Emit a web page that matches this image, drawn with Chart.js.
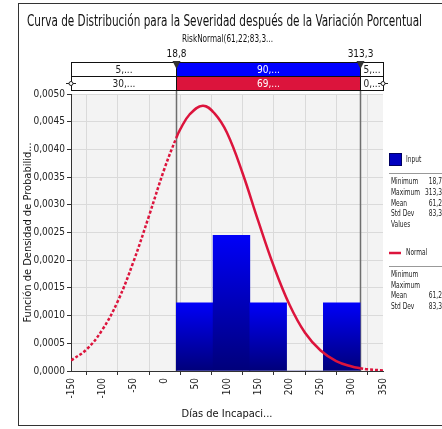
<!DOCTYPE html>
<html>
<head>
<meta charset="utf-8">
<script src="https://cdn.jsdelivr.net/npm/chart.js@4.4.1/dist/chart.umd.min.js"></script>
<style>
  html, body { margin: 0; padding: 0; background: #fff; }
  canvas { display: block; }
</style>
</head>
<body>
<canvas id="grafico" width="442" height="429"></canvas>
<script>
// Histograma: bordes de los bins y densidad de cada uno
const binEdges = [18.8, 77.7, 136.6, 195.5, 254.4, 313.3];
const binDensity = [0.00123, 0.00245, 0.00123, 0, 0.00123];

// Curva normal
const curveX = [-150, -125, -100, -75, -50, -25, 0, 18.8, 25, 40, 61.2, 80, 100, 125, 150, 175, 200, 225, 250, 275, 300, 313.3, 325, 350];
const curveY = [0.00019, 0.00039, 0.00074, 0.00126, 0.00197, 0.00280, 0.00366, 0.00421, 0.00436, 0.00463, 0.00479, 0.00465, 0.00430,
                0.00357, 0.00271, 0.00189, 0.00120, 0.00069, 0.00037, 0.00018, 0.00008, 0.00005, 0.00003, 0.00001];

// Limites y bandas de porcentajes
const limits = [18.8, 313.3];
const limitLabels = ['18,8', '313,3'];
const bandInput = ['5,...', '90,...', '5,...'];
const bandNormal = ['30,...', '69,...', '0,...'];

const inputStats = [['Minimum', '18,7'], ['Maximum', '313,3'], ['Mean', '61,2'], ['Std Dev', '83,3'], ['Values', '']];
const normalStats = [['Minimum', ''], ['Maximum', ''], ['Mean', '61,2'], ['Std Dev', '83,3']];

const FUENTE = "'DejaVu Sans Condensed', 'Liberation Sans Narrow', 'DejaVu Sans', sans-serif";
const AZUL = '#0000ff';
const ROJO = '#dc143c';

Chart.defaults.font.family = FUENTE;
Chart.defaults.color = '#222';

// centros de los bins para las barras
const binCenters = binDensity.map((d, i) => (binEdges[i] + binEdges[i + 1]) / 2);

function coma(v, dec) {
    return v.toFixed(dec).replace('.', ',');
}

// texto con escala horizontal (el original es comprimido)
function textoEscala(c, txt, x, y, s) {
    c.save();
    c.translate(x, y);
    c.scale(s, 1);
    c.fillText(txt, 0, 0);
    c.restore();
}

function textoAncho(c, txt, x, y, ancho) {
    const w = c.measureText(txt).width;
    textoEscala(c, txt, x, y, Math.min(1.2, ancho / w));
}

const decorado = {
    id: 'decorado',
    beforeDraw(chart) {
        const c = chart.ctx, a = chart.chartArea;
        c.save();
        c.fillStyle = '#fff';
        c.fillRect(0, 0, chart.width, chart.height);
        c.strokeStyle = '#333';
        c.lineWidth = 1;
        c.strokeRect(18.5, 3.5, chart.width, 422);
        c.fillStyle = '#f3f3f3';
        c.fillRect(a.left, a.top, a.right - a.left, a.bottom - a.top);
        c.restore();
    },
    beforeDatasetsDraw(chart) {
        // lineas verticales de los limites
        const c = chart.ctx, a = chart.chartArea, sx = chart.scales.x;
        c.save();
        c.strokeStyle = '#6e6e6e';
        c.lineWidth = 1.5;
        limits.forEach(v => {
            const px = Math.round(sx.getPixelForValue(v)) + 0.5;
            c.beginPath();
            c.moveTo(px, 62);
            c.lineTo(px, a.bottom);
            c.stroke();
        });
        c.restore();
    },
    afterDraw(chart) {
        const c = chart.ctx, a = chart.chartArea, sx = chart.scales.x;
        c.save();
        // titulo
        c.fillStyle = '#111';
        c.textAlign = 'left';
        c.textBaseline = 'alphabetic';
        c.font = '16px ' + FUENTE;
        textoAncho(c, 'Curva de Distribución para la Severidad después de la Variación Porcentual', 27, 26, 395);
        c.font = '10px ' + FUENTE;
        textoAncho(c, 'RiskNormal(61,22;83,3...', 182, 42, 91);

        // bandas superiores
        const xl = Math.round(sx.getPixelForValue(limits[0])) + 0.5;
        const xr = Math.round(sx.getPixelForValue(limits[1])) + 0.5;
        const bordes = [a.left + 0.5, xl, xr, a.right + 0.5];
        const filas = [
            { y: 62.5, h: 14, txt: bandInput, fondo: AZUL },
            { y: 76.5, h: 14, txt: bandNormal, fondo: ROJO }
        ];
        c.font = '10px ' + FUENTE;
        c.textAlign = 'center';
        c.textBaseline = 'middle';
        filas.forEach(f => {
            for (let i = 0; i < 3; i++) {
                c.fillStyle = i === 1 ? f.fondo : '#fff';
                c.fillRect(bordes[i], f.y, bordes[i + 1] - bordes[i], f.h);
                c.strokeStyle = '#111';
                c.lineWidth = 1;
                c.strokeRect(bordes[i], f.y, bordes[i + 1] - bordes[i], f.h);
                c.fillStyle = i === 1 ? '#fff' : '#222';
                c.fillText(f.txt[i], (bordes[i] + bordes[i + 1]) / 2, f.y + f.h / 2 + 1);
            }
        });
        // marcadores laterales
        c.strokeStyle = '#222';
        [a.left, a.right].forEach(px => {
            c.beginPath();
            c.moveTo(px - 5, 83.5);
            c.lineTo(px + 5, 83.5);
            c.stroke();
            c.beginPath();
            c.arc(px, 83.5, 2, 0, Math.PI * 2);
            c.fillStyle = '#fff';
            c.fill();
            c.stroke();
        });
        // triangulos y etiquetas de limites
        limits.forEach((v, i) => {
            const px = Math.round(sx.getPixelForValue(v)) + 0.5;
            c.fillStyle = '#333';
            c.beginPath();
            c.moveTo(px - 4, 61);
            c.lineTo(px + 4, 61);
            c.lineTo(px, 69);
            c.closePath();
            c.fill();
            c.fillStyle = '#111';
            c.textAlign = 'center';
            c.textBaseline = 'alphabetic';
            c.fillText(limitLabels[i], px, 57);
        });

        // leyenda derecha
        const lx = 389;
        const esc = 0.82;
        c.fillStyle = '#0000c0';
        c.fillRect(lx, 153, 13, 13);
        c.strokeStyle = '#000060';
        c.strokeRect(lx + 0.5, 153.5, 12, 12);
        c.font = '8px ' + FUENTE;
        c.fillStyle = '#222';
        c.textAlign = 'left';
        c.textBaseline = 'middle';
        textoEscala(c, 'Input', 406, 160, esc);
        c.strokeStyle = '#999';
        c.beginPath();
        c.moveTo(lx, 173.5);
        c.lineTo(chart.width, 173.5);
        c.stroke();
        inputStats.forEach((r, i) => {
            const y = 182 + i * 10.8;
            c.textAlign = 'left';
            textoEscala(c, r[0], 391, y, esc);
            c.textAlign = 'right';
            textoEscala(c, r[1], 442, y, esc);
        });
        c.strokeStyle = ROJO;
        c.lineWidth = 2.5;
        c.beginPath();
        c.moveTo(lx, 253);
        c.lineTo(lx + 12, 253);
        c.stroke();
        c.textAlign = 'left';
        textoEscala(c, 'Normal', 406, 253, esc);
        c.strokeStyle = '#999';
        c.lineWidth = 1;
        c.beginPath();
        c.moveTo(lx, 266.5);
        c.lineTo(chart.width, 266.5);
        c.stroke();
        normalStats.forEach((r, i) => {
            const y = 275 + i * 10.5;
            c.textAlign = 'left';
            textoEscala(c, r[0], 391, y, esc);
            c.textAlign = 'right';
            textoEscala(c, r[1], 442, y, esc);
        });
        c.restore();
    }
};

const ctx = document.getElementById('grafico');

new Chart(ctx, {
    type: 'bar',
    data: {
        datasets: [
            {
                type: 'line',
                label: 'Normal',
                data: curveX.map((x, i) => ({ x: x, y: curveY[i] })),
                borderColor: ROJO,
                borderWidth: 2.5,
                pointRadius: 0,
                tension: 0.4,
                fill: false,
                order: 0,
                segment: {
                    // fuera de los limites la curva va punteada
                    borderDash: s => (s.p0.parsed.x < limits[0] || s.p1.parsed.x > limits[1]) ? [3, 2] : undefined
                }
            },
            {
                type: 'bar',
                label: 'Input',
                data: binCenters.map((x, i) => ({ x: x, y: binDensity[i] })),
                barThickness: 'flex',
                barPercentage: 1,
                categoryPercentage: 1,
                borderWidth: 0,
                order: 1,
                backgroundColor: function(context) {
                    const ch = context.chart;
                    if (!ch.chartArea || !context.parsed) return AZUL;
                    const sy = ch.scales.y;
                    const top = sy.getPixelForValue(context.parsed.y);
                    const bottom = sy.getPixelForValue(0);
                    if (bottom - top < 1) return '#000080';
                    const g = ch.ctx.createLinearGradient(0, top, 0, bottom);
                    g.addColorStop(0, '#0000f8');
                    g.addColorStop(1, '#00007a');
                    return g;
                }
            }
        ]
    },
    options: {
        responsive: false,
        animation: false,
        devicePixelRatio: 1,
        layout: { padding: { top: 94, right: 59, left: 0, bottom: 0 } },
        plugins: {
            legend: { display: false },
            tooltip: { enabled: false }
        },
        scales: {
            x: {
                type: 'linear',
                min: -150,
                max: 350,
                offset: false,
                afterFit: s => { s.height = 58; },
                ticks: {
                    stepSize: 50,
                    autoSkip: false,
                    minRotation: 90,
                    maxRotation: 90,
                    padding: 3,
                    font: { size: 10 },
                    color: '#222',
                    callback: v => String(v)
                },
                grid: { color: '#dadada', tickColor: '#333', tickLength: 4 },
                border: { color: '#333' },
                title: {
                    display: true,
                    text: 'Días de Incapaci...',
                    font: { size: 11 },
                    color: '#111',
                    padding: { top: 0, bottom: 8 }
                }
            },
            y: {
                min: 0,
                max: 0.005,
                afterFit: s => { s.width = 71; },
                ticks: {
                    stepSize: 0.0005,
                    padding: 2,
                    font: { size: 10 },
                    color: '#222',
                    callback: v => coma(v, 4)
                },
                grid: { color: '#dadada', tickColor: '#333', tickLength: 4 },
                border: { color: '#333' },
                title: {
                    display: true,
                    text: 'Función de Densidad de Probabilid...',
                    font: { size: 11 },
                    color: '#111',
                    padding: { top: 22, bottom: 0 }
                }
            }
        }
    },
    plugins: [decorado]
});
</script>
</body>
</html>
